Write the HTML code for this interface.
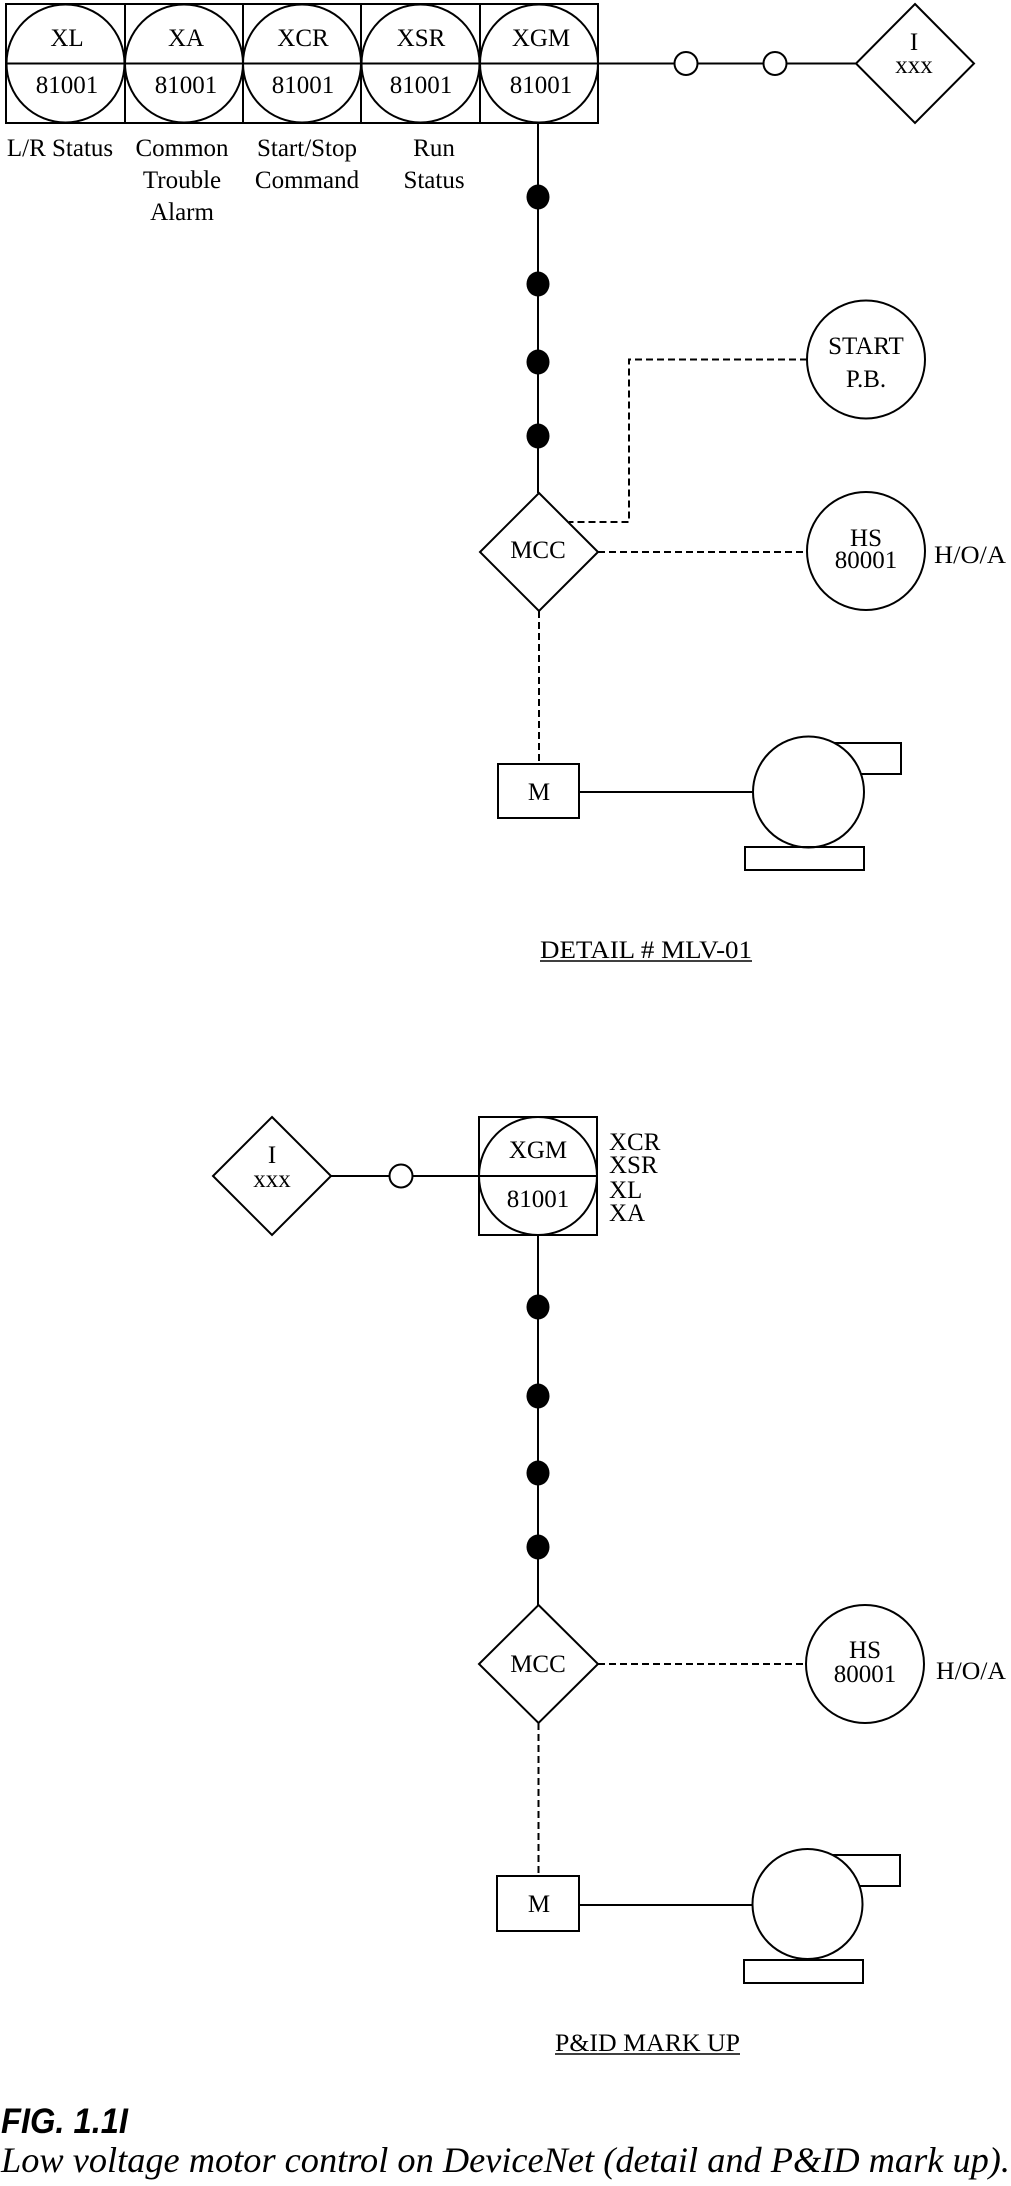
<!DOCTYPE html>
<html>
<head>
<meta charset="utf-8">
<style>
  html, body { margin:0; padding:0; background:#fff; }
  svg { display:block; }
  text { font-family: "Liberation Serif", "DejaVu Serif", serif; fill:#000; }
</style>
</head>
<body>
<svg width="1011" height="2186" viewBox="0 0 1011 2186" xmlns="http://www.w3.org/2000/svg">
  <g fill="none" stroke="#000" stroke-width="2">
    <!-- ===== TOP SECTION ===== -->
    <!-- header box -->
    <rect x="6" y="4" width="592" height="119"/>
    <line x1="125" y1="4" x2="125" y2="123"/>
    <line x1="243" y1="4" x2="243" y2="123"/>
    <line x1="361" y1="4" x2="361" y2="123"/>
    <line x1="480" y1="4" x2="480" y2="123"/>
    <line x1="6" y1="63.5" x2="856" y2="63.5"/>
    <circle cx="65.5" cy="63.5" r="59"/>
    <circle cx="184" cy="63.5" r="59"/>
    <circle cx="302" cy="63.5" r="59"/>
    <circle cx="420.5" cy="63.5" r="59"/>
    <circle cx="539" cy="63.5" r="59"/>
    <!-- hollow connectors -->
    <circle cx="686" cy="63.5" r="11.5" fill="#fff"/>
    <circle cx="775" cy="63.5" r="11.5" fill="#fff"/>
    <!-- I diamond -->
    <polygon points="915,4 974,63.5 915,123 856,63.5"/>
    <!-- trunk -->
    <line x1="538" y1="123" x2="538" y2="493"/>
    <!-- MCC diamond -->
    <polygon points="539,493 598,552 539,611 480,552" fill="#fff"/>
    <!-- START PB -->
    <circle cx="866" cy="359.5" r="59"/>
    <polyline points="807,359.5 629,359.5 629,522 569,522" stroke-dasharray="7,4"/>
    <!-- HS -->
    <circle cx="866" cy="551" r="59"/>
    <line x1="598" y1="552" x2="807" y2="552" stroke-dasharray="7,4"/>
    <!-- to M -->
    <line x1="539" y1="611" x2="539" y2="764" stroke-dasharray="7,4"/>
    <rect x="498" y="764" width="81" height="54"/>
    <line x1="579" y1="792" x2="753" y2="792"/>
    <!-- motor -->
    <rect x="808" y="743" width="93" height="31"/>
    <circle cx="808.5" cy="792" r="55.5" fill="#fff"/>
    <rect x="745" y="847" width="119" height="23"/>

    <!-- ===== BOTTOM SECTION ===== -->
    <polygon points="272,1117 331,1176 272,1235 213,1176"/>
    <line x1="331" y1="1176" x2="597" y2="1176"/>
    <circle cx="401" cy="1176" r="11.5" fill="#fff"/>
    <rect x="479" y="1117" width="118" height="118"/>
    <circle cx="538" cy="1176" r="59"/>
    <line x1="538" y1="1235" x2="538" y2="1605"/>
    <polygon points="538.5,1605 598,1664 538.5,1723 479,1664" fill="#fff"/>
    <circle cx="865" cy="1664" r="59"/>
    <line x1="598" y1="1664" x2="806" y2="1664" stroke-dasharray="7,4"/>
    <line x1="538.5" y1="1723" x2="538.5" y2="1876" stroke-dasharray="7,4"/>
    <rect x="497" y="1876" width="82" height="55"/>
    <line x1="579" y1="1905" x2="752" y2="1905"/>
    <rect x="807" y="1855" width="93" height="31"/>
    <circle cx="807.5" cy="1904" r="55" fill="#fff"/>
    <rect x="744" y="1960" width="119" height="23"/>
  </g>

  <!-- filled dots -->
  <g fill="#000">
    <ellipse cx="538" cy="197" rx="11.5" ry="12.5"/>
    <ellipse cx="538" cy="284" rx="11.5" ry="12.5"/>
    <ellipse cx="538" cy="362" rx="11.5" ry="12.5"/>
    <ellipse cx="538" cy="436" rx="11.5" ry="12.5"/>
    <ellipse cx="538" cy="1307" rx="11.5" ry="12.5"/>
    <ellipse cx="538" cy="1396" rx="11.5" ry="12.5"/>
    <ellipse cx="538" cy="1473" rx="11.5" ry="12.5"/>
    <ellipse cx="538" cy="1547" rx="11.5" ry="12.5"/>
  </g>

  <!-- ===== TEXT TOP ===== -->
  <g font-size="25" text-anchor="middle">
    <text x="67" y="46">XL</text>
    <text x="186" y="46">XA</text>
    <text x="303" y="46">XCR</text>
    <text x="421" y="46">XSR</text>
    <text x="541" y="46">XGM</text>
    <text x="67" y="93">81001</text>
    <text x="186" y="93">81001</text>
    <text x="303" y="93">81001</text>
    <text x="421" y="93">81001</text>
    <text x="541" y="93">81001</text>

    <text x="60" y="156">L/R Status</text>
    <text x="182" y="156">Common</text>
    <text x="182" y="188">Trouble</text>
    <text x="182" y="220">Alarm</text>
    <text x="307" y="156">Start/Stop</text>
    <text x="307" y="188">Command</text>
    <text x="434" y="156">Run</text>
    <text x="434" y="188">Status</text>

    <text x="914" y="50">I</text>
    <text x="914" y="73">xxx</text>

    <text x="538" y="558">MCC</text>
    <text x="866" y="354">START</text>
    <text x="866" y="387">P.B.</text>
    <text x="866" y="546">HS</text>
    <text x="866" y="568">80001</text>
    <text x="539" y="800">M</text>
  </g>
  <text x="934" y="563" font-size="25" textLength="72" lengthAdjust="spacingAndGlyphs">H/O/A</text>
  <text x="540" y="958" font-size="25" textLength="212" lengthAdjust="spacingAndGlyphs">DETAIL # MLV-01</text>
  <line x1="540" y1="961" x2="752" y2="961" stroke="#000" stroke-width="1.6"/>

  <!-- ===== TEXT BOTTOM ===== -->
  <g font-size="25" text-anchor="middle">
    <text x="272" y="1163">I</text>
    <text x="272" y="1187">xxx</text>
    <text x="538" y="1158">XGM</text>
    <text x="538" y="1207">81001</text>
    <text x="538" y="1672">MCC</text>
    <text x="865" y="1658">HS</text>
    <text x="865" y="1682">80001</text>
    <text x="539" y="1912">M</text>
  </g>
  <g font-size="25">
    <text x="609" y="1150">XCR</text>
    <text x="609" y="1173">XSR</text>
    <text x="609" y="1198">XL</text>
    <text x="609" y="1221">XA</text>
  </g>
  <text x="936" y="1679" font-size="25" textLength="70" lengthAdjust="spacingAndGlyphs">H/O/A</text>
  <text x="555" y="2051" font-size="25" textLength="185" lengthAdjust="spacingAndGlyphs">P&amp;ID MARK UP</text>
  <line x1="555" y1="2054" x2="740" y2="2054" stroke="#000" stroke-width="1.6"/>

  <!-- ===== CAPTION ===== -->
  <text x="1" y="2133" font-size="35" font-weight="bold" font-style="italic" style="font-family:'Liberation Sans','DejaVu Sans',sans-serif" textLength="127" lengthAdjust="spacingAndGlyphs">FIG. 1.1I</text>
  <text x="1" y="2172" font-size="36" font-style="italic" textLength="1009" lengthAdjust="spacingAndGlyphs">Low voltage motor control on DeviceNet (detail and P&amp;ID mark up).</text>
</svg>
</body>
</html>
